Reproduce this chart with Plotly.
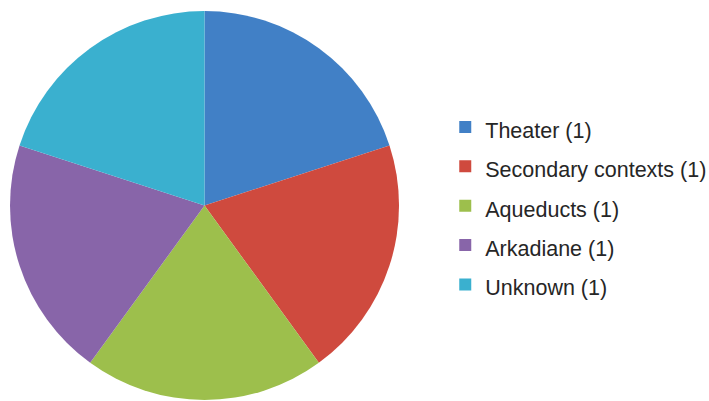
import plotly.graph_objects as go

labels = ["Theater", "Secondary contexts", "Aqueducts", "Arkadiane", "Unknown"]
counts = [1, 1, 1, 1, 1]
colors = ["#4180c6", "#cf4a3e", "#9dbf4c", "#8865a9", "#3ab0cf"]

legend_text = [f'<span style="font-size:21.5px">{l} ({c})</span>' for l, c in zip(labels, counts)]

fig = go.Figure(go.Pie(
    labels=legend_text,
    values=counts,
    sort=False,
    direction="clockwise",
    rotation=0,
    marker=dict(colors=colors, line=dict(width=0)),
    textinfo="none",
    hoverinfo="label+value",
    domain=dict(x=[0.0127, 0.5642], y=[0.0025, 0.9726]),
))

fig.update_layout(
    width=709, height=401,
    margin=dict(l=0, r=0, t=0, b=0, autoexpand=False),
    paper_bgcolor="white",
    plot_bgcolor="white",
    font=dict(family="Liberation Sans, Arial, sans-serif", color="#262626"),
    showlegend=True,
    legend=dict(
        x=0.628, y=0.487, xanchor="left", yanchor="middle",
        font=dict(size=28, family="Liberation Sans, Arial, sans-serif", color="#262626"),
        bgcolor="rgba(0,0,0,0)",
    ),
)

fig.write_html(
    "out.html",
    config={"displayModeBar": False},
    post_script="document.body.style.margin='0';document.body.style.overflow='hidden';",
)
